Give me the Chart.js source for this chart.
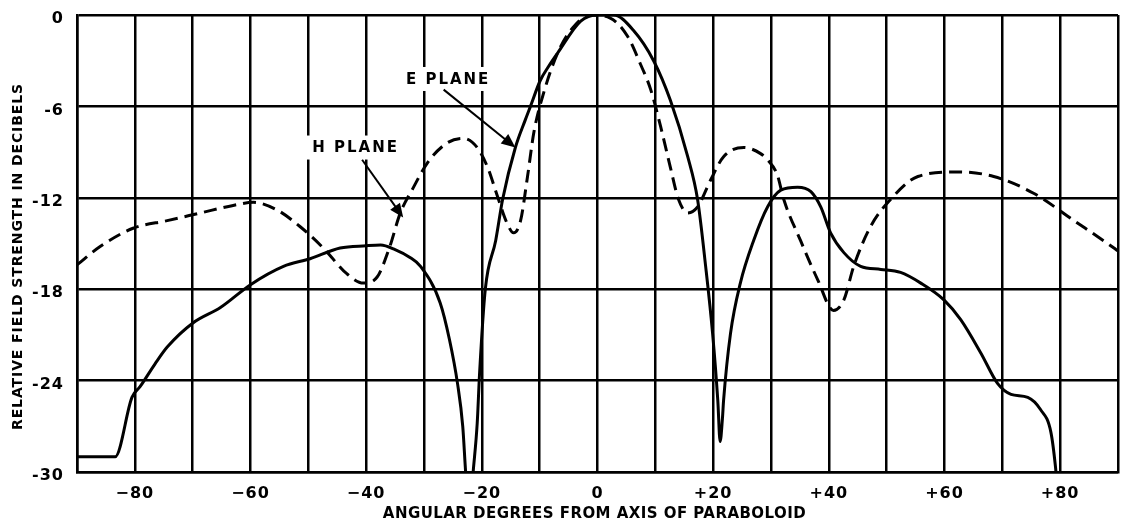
<!DOCTYPE html>
<html>
<head>
<meta charset="utf-8">
<script src="https://cdn.jsdelivr.net/npm/chart.js@4.4.1/dist/chart.umd.min.js"></script>
<style>
  body { margin: 0; background: #fff; }
  #wrap { width: 1125px; height: 527px; }
</style>
</head>
<body>
<div id="wrap"><canvas id="myChart"></canvas></div>
<script>
// E plane (solid) - angle in degrees, relative field strength in dB
var eAngle = [-90, -86, -83.4, -80.5, -79.1, -76.5, -74.4, -69.9, -65.2, -60, -54.3, -49.7, -44.5, -40, -37.5, -35, -32.5, -30.6, -27.2, -25.6, -24.2, -23.3, -22.8, -22.15,
              -21.5, -20.8, -20.4, -19.4, -17.6, -16.4, -14.2, -12.5, -11.6, -9.9, -8.5, -6.9, -2.9, 0, 2.8, 6.2, 9.7, 12.6, 15.6, 17.3, 18.7, 19.9, 20.8, 21.2,
              21.6, 21.8, 23, 24.7, 27, 29.4, 31.7, 34.6, 36.9, 38.6, 40.3, 42.6, 45.5, 49, 52.4, 55.9, 59.9, 62.8, 66.3, 69.2, 71.5, 74.4, 76.6, 78.4, 79.2, 79.5];
var eDb = [-29.0, -29.0, -29.0, -25.1, -24.4, -22.9, -21.8, -20.2, -19.2, -17.7, -16.5, -16.0, -15.3, -15.15, -15.1, -15.4, -15.9, -16.5, -18.9, -21.3, -24.2, -27.0, -30, -33,
           -30, -26.8, -23.6, -18, -14.8, -12.1, -8.7, -6.9, -6.0, -4.3, -3.4, -2.5, -0.4, 0, 0, -1.0, -3.0, -5.6, -9.3, -12.1, -16.5, -20.9, -25.3, -28.0,
           -26.5, -25.3, -20.9, -17.6, -14.8, -12.6, -11.5, -11.3, -11.6, -12.6, -14.3, -15.6, -16.5, -16.7, -16.9, -17.6, -18.7, -20.0, -22.2, -24.2, -24.9, -25.1, -25.9, -27.4, -29.7, -31];

// H plane (dashed)
var hAngle = [-90, -86, -80.3, -74.4, -68.7, -63, -59.5, -55.4, -51.4, -47.4, -43.3, -40.5, -38.1, -36, -34.1, -31.8, -29.4, -26, -23.2, -20.8, -19, -17.3, -15.6, -14.5,
              -13.3, -12.1, -11, -9.3, -6.9, -4.2, -1.2, 2.2, 5.2, 7.4, 9.2, 10.9, 12.6, 14, 15.6, 17.3, 19.6, 21.8, 25.3, 28.2, 29.4, 31.1, 32.2, 35.1, 38.1, 40.8,
              42.6, 44.3, 47.2, 50.7, 55.4, 62.3, 68.5, 75.4, 82.4, 89.3, 90];
var hDb = [-16.4, -15.2, -14.0, -13.5, -13.0, -12.5, -12.3, -12.8, -13.9, -15.3, -17.0, -17.6, -17.2, -15.3, -13.0, -11.3, -9.7, -8.4, -8.1, -8.7, -10.0, -11.9, -13.7, -14.3,
           -13.5, -10.6, -7.7, -5.1, -2.5, -0.8, 0, -0.2, -1.4, -3.2, -4.9, -7.3, -10.0, -12.1, -13.0, -12.6, -10.8, -9.3, -8.7, -9.1, -9.5, -10.5, -12.1, -14.8, -17.4, -19.4,
           -18.7, -16.5, -13.9, -12.1, -10.6, -10.3, -10.6, -11.7, -13.5, -15.3, -15.5];

var xTickValues = [-80, -60, -40, -20, 0, 20, 40, 60, 80];
var xTickLabels = ['\u221280', '\u221260', '\u221240', '\u221220', '0', '+20', '+40', '+60', '+80'];

var xTitle = 'ANGULAR DEGREES FROM AXIS OF PARABOLOID';
var yTitle = 'RELATIVE FIELD STRENGTH IN DECIBELS';

// callout labels, placed in data coordinates
var callouts = [
  { text: 'E PLANE', x: -26, y: -4.2, fromX: -26.6, fromY: -4.9, toX: -14.2, toY: -8.7 },
  { text: 'H PLANE', x: -42, y: -8.7, fromX: -40.7, fromY: -9.5, toX: -33.6, toY: -13.3 }
];

function toPoints(xs, ys) {
  return xs.map(function (x, i) { return { x: x, y: ys[i] }; });
}

var letteringPlugin = {
  id: 'lettering',
  beforeDraw: function (chart) {
    // wider lettering for tick labels, like the hand-lettered original
    chart.ctx.letterSpacing = '1px';
  },
  afterDraw: function (chart) {
    var ctx = chart.ctx;
    var area = chart.chartArea;
    ctx.save();
    ctx.fillStyle = '#000';
    ctx.textAlign = 'center';
    ctx.textBaseline = 'middle';

    ctx.font = 'bold 15px "DejaVu Sans"';
    ctx.letterSpacing = '0.45px';
    ctx.fillText(xTitle, (area.left + area.right) / 2 - 3, chart.height - 13);

    ctx.save();
    ctx.translate(18, (area.top + area.bottom) / 2 + 13);
    ctx.rotate(-Math.PI / 2);
    ctx.font = 'bold 14px "DejaVu Sans"';
    ctx.letterSpacing = '0.9px';
    ctx.fillText(yTitle, 0, 0);
    ctx.restore();
    ctx.restore();
  },
  afterDatasetsDraw: function (chart) {
    var ctx = chart.ctx;
    var xs = chart.scales.x, ys = chart.scales.y;
    ctx.save();
    ctx.font = 'bold 15px "DejaVu Sans"';
    ctx.letterSpacing = '2px';
    ctx.textAlign = 'center';
    ctx.textBaseline = 'middle';
    callouts.forEach(function (c) {
      var px = xs.getPixelForValue(c.x), py = ys.getPixelForValue(c.y);
      var w = ctx.measureText(c.text).width;
      ctx.fillStyle = '#fff';
      ctx.fillRect(px - w / 2 - 6, py - 12, w + 12, 24);
      ctx.fillStyle = '#000';
      ctx.fillText(c.text, px + 1, py + 1);

      // arrow
      var x1 = xs.getPixelForValue(c.fromX), y1 = ys.getPixelForValue(c.fromY);
      var x2 = xs.getPixelForValue(c.toX), y2 = ys.getPixelForValue(c.toY);
      var ang = Math.atan2(y2 - y1, x2 - x1);
      ctx.strokeStyle = '#000';
      ctx.lineWidth = 2;
      ctx.beginPath();
      ctx.moveTo(x1, y1);
      ctx.lineTo(x2 - 10 * Math.cos(ang), y2 - 10 * Math.sin(ang));
      ctx.stroke();
      ctx.beginPath();
      ctx.moveTo(x2, y2);
      ctx.lineTo(x2 - 14 * Math.cos(ang) + 6 * Math.sin(ang), y2 - 14 * Math.sin(ang) - 6 * Math.cos(ang));
      ctx.lineTo(x2 - 14 * Math.cos(ang) - 6 * Math.sin(ang), y2 - 14 * Math.sin(ang) + 6 * Math.cos(ang));
      ctx.closePath();
      ctx.fillStyle = '#000';
      ctx.fill();
    });
    ctx.restore();
  }
};

var ctx = document.getElementById('myChart').getContext('2d');
var myChart = new Chart(ctx, {
  type: 'line',
  data: {
    datasets: [{
      label: 'E PLANE',
      data: toPoints(eAngle, eDb),
      borderColor: '#000',
      borderWidth: 3,
      pointRadius: 0,
      cubicInterpolationMode: 'monotone',
      fill: false
    }, {
      label: 'H PLANE',
      data: toPoints(hAngle, hDb),
      borderColor: '#000',
      borderWidth: 3,
      borderDash: [13, 7],
      pointRadius: 0,
      cubicInterpolationMode: 'monotone',
      fill: false
    }]
  },
  options: {
    responsive: true,
    maintainAspectRatio: false,
    animation: false,
    layout: { padding: { top: 15, right: 7, left: 0, bottom: 0 } },
    plugins: { legend: { display: false }, tooltip: { enabled: false } },
    scales: {
      x: {
        type: 'linear',
        min: -90,
        max: 90,
        afterFit: function (s) {
          s.height = 55;
          // tick padding would otherwise push the plot edges inwards
          s.paddingLeft = 0;
          s.paddingRight = 0;
        },
        afterBuildTicks: function (s) {
          var t = [];
          for (var v = -90; v <= 90; v += 10) t.push({ value: v });
          s.ticks = t;
        },
        ticks: {
          autoSkip: false,
          maxRotation: 0,
          padding: 12,
          color: '#000',
          font: { family: '"DejaVu Sans"', size: 16, weight: 'bold' },
          callback: function (v) {
            var i = xTickValues.indexOf(v);
            return i >= 0 ? xTickLabels[i] : '';
          }
        },
        grid: { color: '#000', lineWidth: 2.5, drawTicks: false },
        border: { display: true, color: '#000', width: 2.5 }
      },
      y: {
        min: -30,
        max: 0,
        afterFit: function (s) {
          s.width = 77;
          s.paddingTop = 0;
          s.paddingBottom = 0;
        },
        ticks: {
          stepSize: 6,
          padding: 13,
          labelOffset: 4,
          color: '#000',
          font: { family: '"DejaVu Sans"', size: 16, weight: 'bold' }
        },
        grid: { color: '#000', lineWidth: 2.5, drawTicks: false },
        border: { display: true, color: '#000', width: 2.5 }
      }
    }
  },
  plugins: [letteringPlugin]
});
</script>
</body>
</html>
